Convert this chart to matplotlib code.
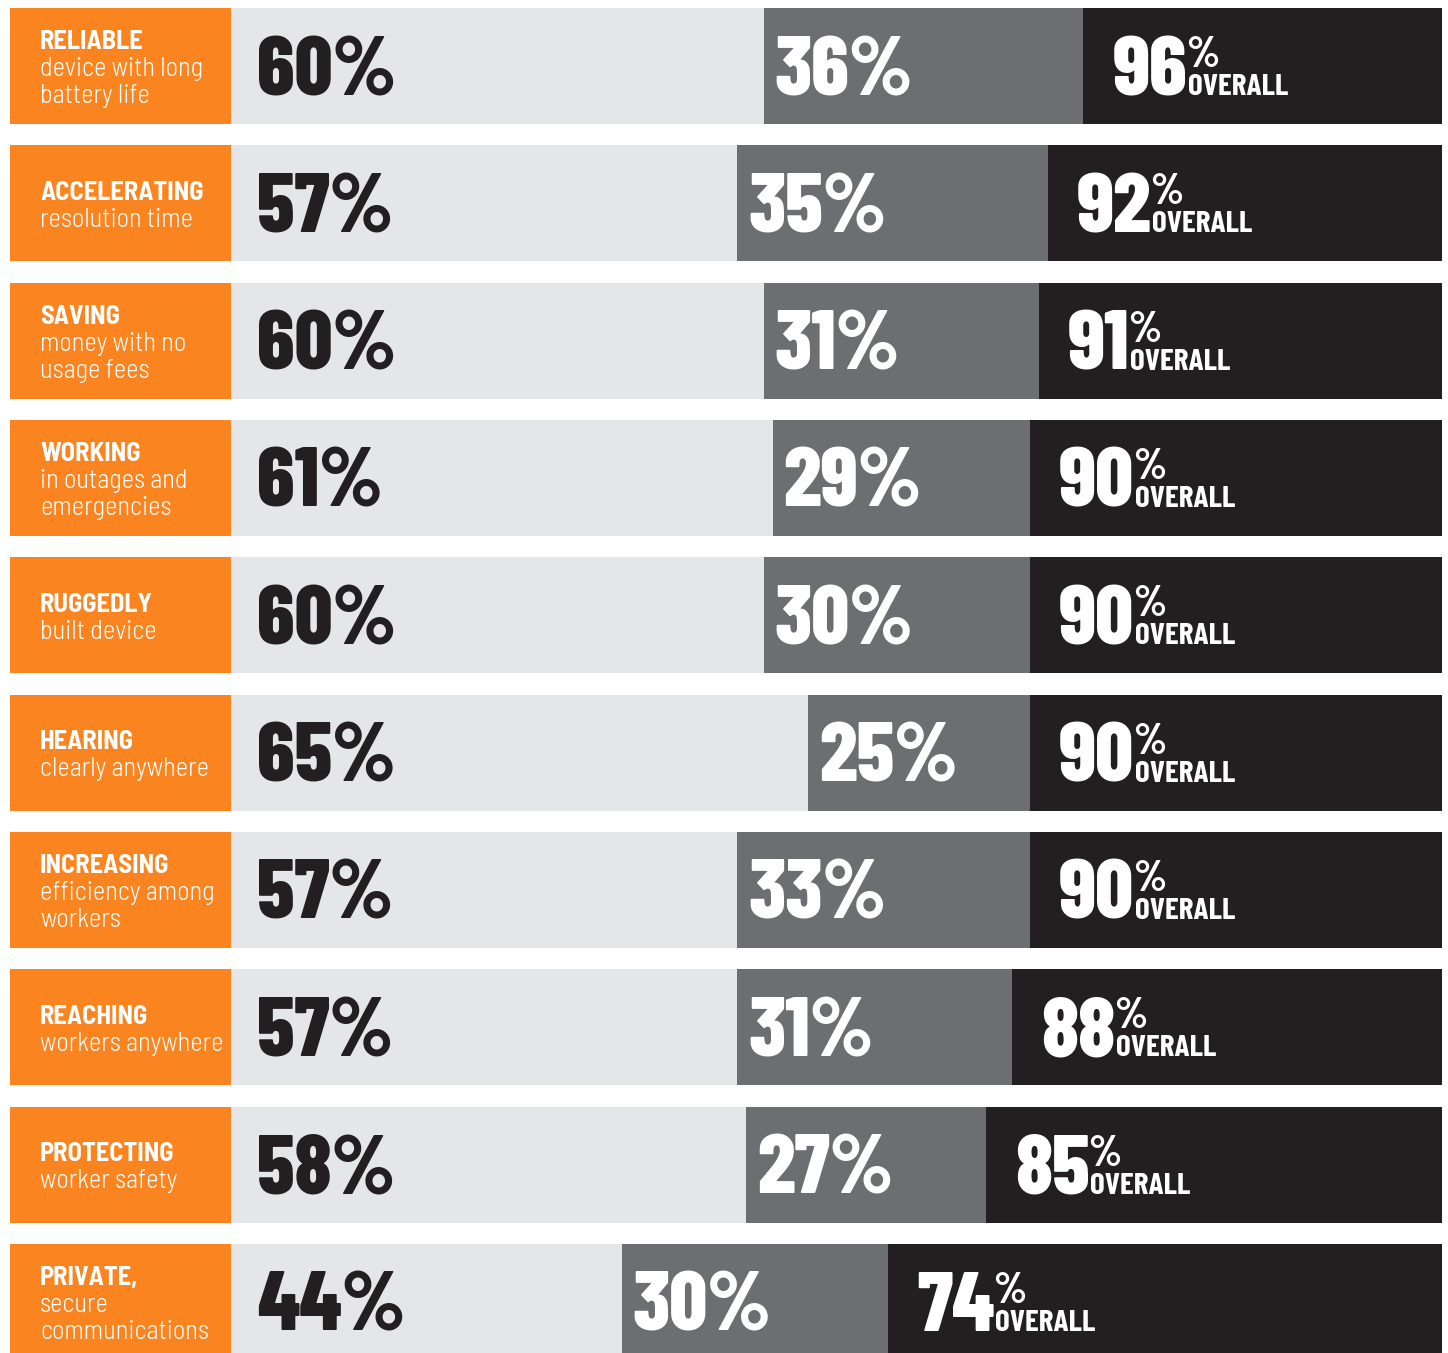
#!/usr/bin/env python3

"""Survey results: share of respondents rating each benefit, as stacked bars."""

import matplotlib
matplotlib.use("Agg")
import matplotlib.pyplot as plt
from matplotlib import font_manager

HEADS = ["RELIABLE", "ACCELERATING", "SAVING", "WORKING", "RUGGEDLY",
         "HEARING", "INCREASING", "REACHING", "PROTECTING", "PRIVATE,"]
SUBS = [["device with long", "battery life"], ["resolution time"],
        ["money with no", "usage fees"], ["in outages and", "emergencies"],
        ["built device"], ["clearly anywhere"], ["efficiency among", "workers"],
        ["workers anywhere"], ["worker safety"], ["secure", "communications"]]
PART_A = [60, 57, 60, 61, 60, 65, 57, 57, 58, 44]
PART_B = [36, 35, 31, 29, 30, 25, 33, 31, 27, 30]
OVERALL = [96, 92, 91, 90, 90, 90, 90, 88, 85, 74]

ORANGE = "#FA8420"
LIGHT = "#E5E6E8"
MID = "#6D6E71"
DARK = "#231F20"

names = {f.name for f in font_manager.fontManager.ttflist}
FONT = "Barlow Condensed" if "Barlow Condensed" in names else "DejaVu Sans"
LABEL_FONT = "Barlow Semi Condensed" if "Barlow Semi Condensed" in names else FONT

W, H = 1448, 1353
PX = 8.88          # pixels per percentage point
PITCH = 137.33     # pixels per row
LABEL_W = 221 / PX
XMAX = 1211 / PX


def px_y(p):
    return p / PITCH


fig = plt.figure(figsize=(W / 100, H / 100), dpi=100)
ax = fig.add_axes([10 / W, 0, 1432 / W, 1])
ax.set_xlim(-LABEL_W, XMAX)
ax.set_ylim((H - 66) / PITCH, -66 / PITCH)
ax.axis("off")

rows = list(range(len(HEADS)))
bh = 116 / PITCH
ax.barh(rows, [LABEL_W] * len(rows), left=-LABEL_W, height=bh, color=ORANGE, lw=0)
ax.barh(rows, PART_A, height=bh, color=LIGHT, lw=0)
ax.barh(rows, PART_B, left=PART_A, height=bh, color=MID, lw=0)
ax.barh(rows, [XMAX - o for o in OVERALL], left=OVERALL, height=bh, color=DARK, lw=0)

big = dict(fontsize=60, fontweight=800, family=FONT, va="baseline", ha="left")
x_label = -LABEL_W + 30 / PX
for i in rows:
    lines = [HEADS[i]] + SUBS[i]
    n = len(lines)
    for k, line in enumerate(lines):
        y = i + px_y((k - (n - 1) / 2) * 27 + 3)
        ax.text(x_label, y, line, ha="left", va="center", color="white",
                fontsize=19, family=LABEL_FONT,
                fontweight="bold" if k == 0 else 300)

    base = i + px_y(29)
    ax.text(26 / PX, base, f"{PART_A[i]}%", color=DARK, **big)
    ax.text(PART_A[i] + 11 / PX, base, f"{PART_B[i]}%", color="white", **big)
    num = ax.text(OVERALL[i] + 29 / PX, base, f"{OVERALL[i]}", color="white", **big)
    ax.annotate("%", xy=(1, i + px_y(1)), xycoords=(num, "data"),
                xytext=(-1, 0), textcoords="offset points",
                ha="left", va="baseline", color="white", fontsize=31,
                fontweight="bold", family=FONT)
    ax.annotate("OVERALL", xy=(1, base), xycoords=(num, "data"),
                xytext=(0.5, 0), textcoords="offset points",
                ha="left", va="baseline", color="white", fontsize=22.5,
                fontweight="bold", family=FONT)

fig.savefig("out.png", dpi=100)
